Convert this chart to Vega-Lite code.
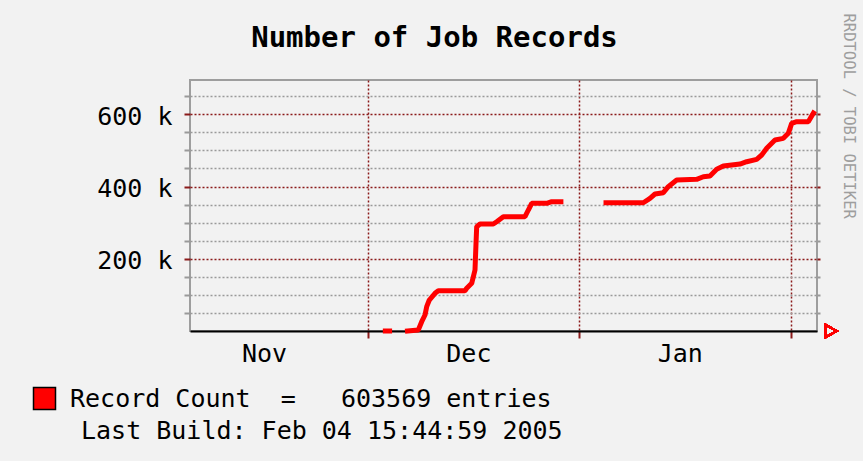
{
  "$schema": "https://vega.github.io/schema/vega-lite/v6.json",
  "width": 627,
  "height": 251,
  "autosize": {"type": "none"},
  "padding": {"left": 190, "top": 80, "right": 46, "bottom": 130},
  "background": "#f2f2f2",
  "config": {
    "view": {"fill": "white", "stroke": "#9e9e9e", "strokeWidth": 2},
    "font": "DejaVu Sans Mono"
  },
  "title": {
    "text": "Number of Job Records",
    "font": "DejaVu Sans Mono",
    "fontSize": 29,
    "fontWeight": "bold",
    "color": "black",
    "anchor": "middle",
    "baseline": "alphabetic",
    "dx": -69,
    "dy": 63,
    "offset": 0
  },
  "data": {
    "values": [
      {"t": "2004-12-03T13:00:00Z", "v": 0, "seg": 1},
      {"t": "2004-12-04T04:00:00Z", "v": 0, "seg": 1},
      {"t": "2004-12-06T19:00:00Z", "v": 0, "seg": 2},
      {"t": "2004-12-08T09:00:00Z", "v": 3000, "seg": 2},
      {"t": "2004-12-08T21:00:00Z", "v": 25700, "seg": 2},
      {"t": "2004-12-09T08:36:00Z", "v": 44300, "seg": 2},
      {"t": "2004-12-09T14:36:00Z", "v": 67300, "seg": 2},
      {"t": "2004-12-09T23:48:00Z", "v": 85800, "seg": 2},
      {"t": "2004-12-10T19:48:00Z", "v": 104400, "seg": 2},
      {"t": "2004-12-11T07:30:00Z", "v": 111600, "seg": 2},
      {"t": "2004-12-15T05:24:00Z", "v": 111600, "seg": 2},
      {"t": "2004-12-15T11:24:00Z", "v": 118200, "seg": 2},
      {"t": "2004-12-16T05:00:00Z", "v": 132000, "seg": 2},
      {"t": "2004-12-16T16:36:00Z", "v": 168900, "seg": 2},
      {"t": "2004-12-16T20:12:00Z", "v": 242800, "seg": 2},
      {"t": "2004-12-16T22:36:00Z", "v": 288800, "seg": 2},
      {"t": "2004-12-17T10:12:00Z", "v": 296200, "seg": 2},
      {"t": "2004-12-19T09:00:00Z", "v": 296200, "seg": 2},
      {"t": "2004-12-19T21:00:00Z", "v": 302600, "seg": 2},
      {"t": "2004-12-20T20:18:00Z", "v": 316400, "seg": 2},
      {"t": "2004-12-24T00:36:00Z", "v": 316400, "seg": 2},
      {"t": "2004-12-24T12:18:00Z", "v": 335000, "seg": 2},
      {"t": "2004-12-25T00:12:00Z", "v": 353500, "seg": 2},
      {"t": "2004-12-27T05:00:00Z", "v": 353500, "seg": 2},
      {"t": "2004-12-27T22:36:00Z", "v": 358000, "seg": 2},
      {"t": "2004-12-29T07:00:00Z", "v": 358000, "seg": 2},
      {"t": "2005-01-04T21:48:00Z", "v": 355200, "seg": 3},
      {"t": "2005-01-10T09:06:00Z", "v": 355200, "seg": 3},
      {"t": "2005-01-11T08:36:00Z", "v": 367400, "seg": 3},
      {"t": "2005-01-12T02:12:00Z", "v": 379300, "seg": 3},
      {"t": "2005-01-13T07:30:00Z", "v": 382900, "seg": 3},
      {"t": "2005-01-14T01:00:00Z", "v": 399500, "seg": 3},
      {"t": "2005-01-15T06:36:00Z", "v": 418000, "seg": 3},
      {"t": "2005-01-18T05:00:00Z", "v": 420000, "seg": 3},
      {"t": "2005-01-19T04:18:00Z", "v": 427200, "seg": 3},
      {"t": "2005-01-20T03:48:00Z", "v": 429100, "seg": 3},
      {"t": "2005-01-21T03:24:00Z", "v": 447700, "seg": 3},
      {"t": "2005-01-22T02:42:00Z", "v": 456800, "seg": 3},
      {"t": "2005-01-24T13:24:00Z", "v": 462300, "seg": 3},
      {"t": "2005-01-25T13:00:00Z", "v": 468700, "seg": 3},
      {"t": "2005-01-27T00:12:00Z", "v": 475400, "seg": 3},
      {"t": "2005-01-27T17:48:00Z", "v": 487300, "seg": 3},
      {"t": "2005-01-28T11:24:00Z", "v": 505800, "seg": 3},
      {"t": "2005-01-29T16:36:00Z", "v": 528800, "seg": 3},
      {"t": "2005-01-30T21:54:00Z", "v": 533500, "seg": 3},
      {"t": "2005-01-31T15:30:00Z", "v": 547300, "seg": 3},
      {"t": "2005-02-01T03:24:00Z", "v": 575000, "seg": 3},
      {"t": "2005-02-01T21:00:00Z", "v": 579500, "seg": 3},
      {"t": "2005-02-03T13:54:00Z", "v": 579500, "seg": 3},
      {"t": "2005-02-04T08:00:00Z", "v": 603569, "seg": 3}
    ]
  },
  "layer": [
    {
      "mark": {"type": "line", "color": "#ff0000", "strokeWidth": 5, "strokeCap": "square", "strokeJoin": "bevel"},
      "encoding": {
        "x": {
          "field": "t",
          "type": "temporal",
          "scale": {
            "type": "utc",
            "nice": false,
            "domain": [
              {"year": 2004, "month": 11, "date": 4, "hours": 21, "minutes": 24, "utc": true},
              {"year": 2005, "month": 2, "date": 4, "hours": 20, "minutes": 30, "utc": true}
            ]
          },
          "axis": {
            "values": [1101859200000, 1104537600000, 1107216000000],
            "title": null,
            "domainColor": "black",
            "domainWidth": 2,
            "tickColor": "#8b1a1a",
            "tickSize": 7,
            "tickWidth": 2,
            "grid": true,
            "gridColor": "#8b1a1a",
            "gridDash": [2, 2],
            "gridWidth": 1.5,
            "labelExpr": "utcFormat(datum.value - 15*86400000, '%b')",
            "labelFont": "DejaVu Sans Mono",
            "labelFontSize": 25,
            "labelColor": "black",
            "labelOffset": {"condition": {"test": "datum.value < 1102000000000", "value": -104}, "value": -111},
            "labelPadding": 3,
            "labelFlush": false,
            "labelOverlap": false,
            "labelAlign": "center"
          }
        },
        "y": {
          "field": "v",
          "type": "quantitative",
          "scale": {"domain": [0, 695000], "nice": false, "zero": true},
          "axis": {
            "values": [50000, 100000, 150000, 200000, 250000, 300000, 350000, 400000, 450000, 500000, 550000, 600000, 650000],
            "title": null,
            "domain": false,
            "grid": true,
            "gridColor": {"condition": {"test": "datum.value % 200000 === 0", "value": "#8b1a1a"}, "value": "#9a9a9a"},
            "gridDash": [2, 2],
            "gridWidth": 1.5,
            "tickColor": {"condition": {"test": "datum.value % 200000 === 0", "value": "#8b1a1a"}, "value": "#9a9a9a"},
            "tickSize": 6,
            "tickWidth": 2,
            "labelExpr": "datum.value % 200000 === 0 ? format(datum.value/1000, 'd') + ' k' : ''",
            "labelFont": "DejaVu Sans Mono",
            "labelFontSize": 25,
            "labelColor": "black",
            "labelPadding": 12,
            "labelOffset": 2,
            "labelOverlap": false,
            "labelFlush": false
          }
        },
        "detail": {"field": "seg"}
      }
    },
    {
      "mark": {"type": "point", "shape": "triangle-right", "filled": false, "stroke": "#ff0000", "strokeWidth": 2, "size": 160, "opacity": 1},
      "encoding": {
        "x": {"datum": {"year": 2005, "month": 2, "date": 6, "hours": 21, "minutes": 48, "utc": true}, "type": "temporal"},
        "y": {
          "datum": 0,
          "type": "quantitative",
          "axis": {
            "orient": "right",
            "values": [50000, 100000, 150000, 200000, 250000, 300000, 350000, 400000, 450000, 500000, 550000, 600000, 650000],
            "labels": false,
            "domain": false,
            "grid": false,
            "tickSize": 3,
            "tickWidth": 2,
            "tickColor": {"condition": {"test": "datum.value % 200000 === 0", "value": "#8b1a1a"}, "value": "#9a9a9a"},
            "title": "RRDTOOL / TOBI OETIKER",
            "titleAngle": 90,
            "titleFont": "DejaVu Sans Mono",
            "titleFontSize": 15.5,
            "titleFontWeight": "normal",
            "titleColor": "#9e9e9e",
            "titleX": 31,
            "titleY": -67,
            "titleAlign": "left",
            "titleBaseline": "middle"
          }
        }
      }
    },
    {
      "transform": [{"filter": "false"}],
      "mark": {"type": "square", "stroke": "black", "strokeWidth": 1.5, "opacity": 1},
      "encoding": {
        "fill": {
          "datum": "Record Count\u00a0\u00a0=\u00a0\u00a0\u00a0603569 entries",
          "scale": {"range": ["#ff0000"]},
          "legend": {
            "title": null,
            "orient": "none",
            "legendX": -158,
            "legendY": 306,
            "padding": 0,
            "symbolType": "square",
            "symbolSize": 484,
            "symbolOpacity": 1,
            "symbolStrokeColor": "black",
            "symbolStrokeWidth": 1.5,
            "symbolFillColor": "#ff0000",
            "labelFont": "DejaVu Sans Mono",
            "labelFontSize": 25,
            "labelColor": "black",
            "labelOffset": 13,
            "labelLimit": 800
          }
        }
      }
    },
    {
      "transform": [{"filter": "false"}],
      "mark": {"type": "point"},
      "encoding": {
        "shape": {
          "datum": "Last Build: Feb 04 15:44:59 2005",
          "legend": {
            "title": null,
            "orient": "none",
            "legendX": -134,
            "legendY": 338,
            "padding": 0,
            "symbolOpacity": 0,
            "symbolSize": 1,
            "labelFont": "DejaVu Sans Mono",
            "labelFontSize": 25,
            "labelColor": "black",
            "labelOffset": 0,
            "labelLimit": 800
          }
        }
      }
    }
  ],
  "resolve": {"axis": {"y": "independent"}}
}
